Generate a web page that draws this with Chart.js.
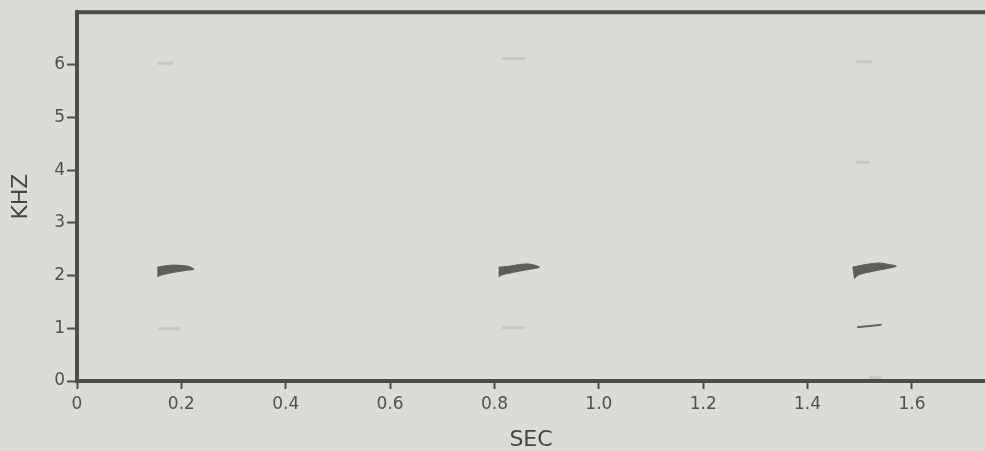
<!DOCTYPE html>
<html>
<head>
<meta charset="utf-8">
<script src="https://cdn.jsdelivr.net/npm/chart.js@4.4.0/dist/chart.umd.min.js"></script>
<style>
  html, body { margin: 0; padding: 0; background: #d9dcd7; }
  #wrap { width: 985px; height: 451px; }
</style>
</head>
<body>
<div id="wrap"><canvas id="spectro" width="985" height="451"></canvas></div>
<script>
// axis ticks
const xTicks = [0, 0.2, 0.4, 0.6, 0.8, 1.0, 1.2, 1.4, 1.6];
const xTickLabels = ['0', '0.2', '0.4', '0.6', '0.8', '1.0', '1.2', '1.4', '1.6'];
const yTicks = [0, 1, 2, 3, 4, 5, 6];

// main notes (~2 kHz), outline: time (s) / frequency (kHz)
const call1Sec = [0.154, 0.165, 0.184, 0.203, 0.216, 0.224, 0.210, 0.184, 0.165, 0.154];
const call1Khz = [2.16, 2.18, 2.20, 2.19, 2.17, 2.12, 2.10, 2.06, 2.02, 1.98];
const call2Sec = [0.808, 0.829, 0.848, 0.867, 0.886, 0.861, 0.835, 0.816, 0.808];
const call2Khz = [2.16, 2.18, 2.21, 2.22, 2.16, 2.11, 2.06, 2.02, 1.98];
const call3Sec = [1.486, 1.511, 1.537, 1.556, 1.570, 1.550, 1.524, 1.499, 1.489];
const call3Khz = [2.16, 2.21, 2.24, 2.21, 2.18, 2.13, 2.08, 2.02, 1.94];

// thin 1 kHz trace under the third note
const lowTraceSec = [1.495, 1.524, 1.542];
const lowTraceKhz = [1.02, 1.05, 1.07];

// faint harmonics / smudges: start, end, frequency
const faintStart = [0.156, 0.158, 0.817, 0.817, 1.496, 1.495, 1.520];
const faintEnd   = [0.182, 0.196, 0.856, 0.856, 1.522, 1.516, 1.540];
const faintKhz   = [6.03, 0.99, 6.12, 1.01, 6.06, 4.15, 0.06];

const zip = (xs, ys) => xs.map((x, i) => ({ x: x, y: ys[i] }));

const noteStyle = {
  showLine: true,
  fill: 'shape',
  tension: 0.3,
  borderColor: '#5c5e5c',
  backgroundColor: '#5c5e5c',
  borderWidth: 1,
  pointRadius: 0
};

const datasets = [
  { ...noteStyle, data: zip(call1Sec, call1Khz) },
  { ...noteStyle, data: zip(call2Sec, call2Khz) },
  { ...noteStyle, data: zip(call3Sec, call3Khz) },
  {
    showLine: true, fill: false, tension: 0.3,
    borderColor: '#606260', borderWidth: 2, pointRadius: 0,
    data: zip(lowTraceSec, lowTraceKhz)
  }
];
faintKhz.forEach((k, i) => {
  datasets.push({
    showLine: true, fill: false,
    borderColor: 'rgba(130,132,130,0.22)', borderWidth: 3, borderCapStyle: 'round',
    pointRadius: 0,
    data: [{ x: faintStart[i], y: k }, { x: faintEnd[i], y: k }]
  });
});

// paper background + top edge of the frame
const framePlugin = {
  id: 'frame',
  beforeDraw(chart) {
    const ctx = chart.ctx;
    ctx.save();
    ctx.fillStyle = '#d9dcd7';
    ctx.fillRect(0, 0, chart.width, chart.height);
    ctx.restore();
  },
  afterDraw(chart) {
    const { ctx, chartArea } = chart;
    ctx.save();
    ctx.strokeStyle = '#4b4c4b';
    ctx.lineWidth = 4;
    ctx.beginPath();
    ctx.moveTo(chartArea.left - 2, chartArea.top);
    ctx.lineTo(chartArea.right, chartArea.top);
    ctx.stroke();
    ctx.restore();
  }
};

const labelFont = { family: '"DejaVu Sans", sans-serif', size: 17 };
const titleFont = { family: '"DejaVu Sans", sans-serif', size: 22, lineHeight: 1 };

new Chart(document.getElementById('spectro'), {
  type: 'scatter',
  data: { datasets: datasets },
  plugins: [framePlugin],
  options: {
    responsive: false,
    animation: false,
    layout: { padding: { top: 11, left: 0, right: 0, bottom: 0 } },
    plugins: { legend: { display: false }, tooltip: { enabled: false } },
    scales: {
      x: {
        type: 'linear',
        min: 0,
        max: 1.74,
        afterBuildTicks: (scale) => { scale.ticks = xTicks.map(v => ({ value: v })); },
        afterFit: (scale) => { scale.height = 70; },
        ticks: {
          color: '#4f514f',
          font: labelFont,
          padding: 5,
          maxRotation: 0,
          autoSkip: false,
          callback: (v, i) => xTickLabels[i]
        },
        grid: { drawOnChartArea: false, drawTicks: true, tickLength: 8, tickWidth: 2, tickColor: '#4b4c4b' },
        border: { color: '#4b4c4b', width: 4 },
        title: { display: true, text: 'SEC', color: '#454745', font: titleFont, padding: { top: 0, bottom: 0 } }
      },
      y: {
        type: 'linear',
        min: 0,
        max: 7,
        afterBuildTicks: (scale) => { scale.ticks = yTicks.map(v => ({ value: v })); },
        afterFit: (scale) => { scale.width = 77; },
        ticks: {
          color: '#4f514f',
          font: labelFont,
          padding: 2,
          autoSkip: false,
          callback: (v) => String(v)
        },
        grid: { drawOnChartArea: false, drawTicks: true, tickLength: 10, tickWidth: 2, tickColor: '#4b4c4b' },
        border: { color: '#4b4c4b', width: 4 },
        title: { display: true, text: 'KHZ', color: '#454745', font: titleFont, padding: { top: 10, bottom: 0 } }
      }
    }
  }
});
</script>
</body>
</html>
